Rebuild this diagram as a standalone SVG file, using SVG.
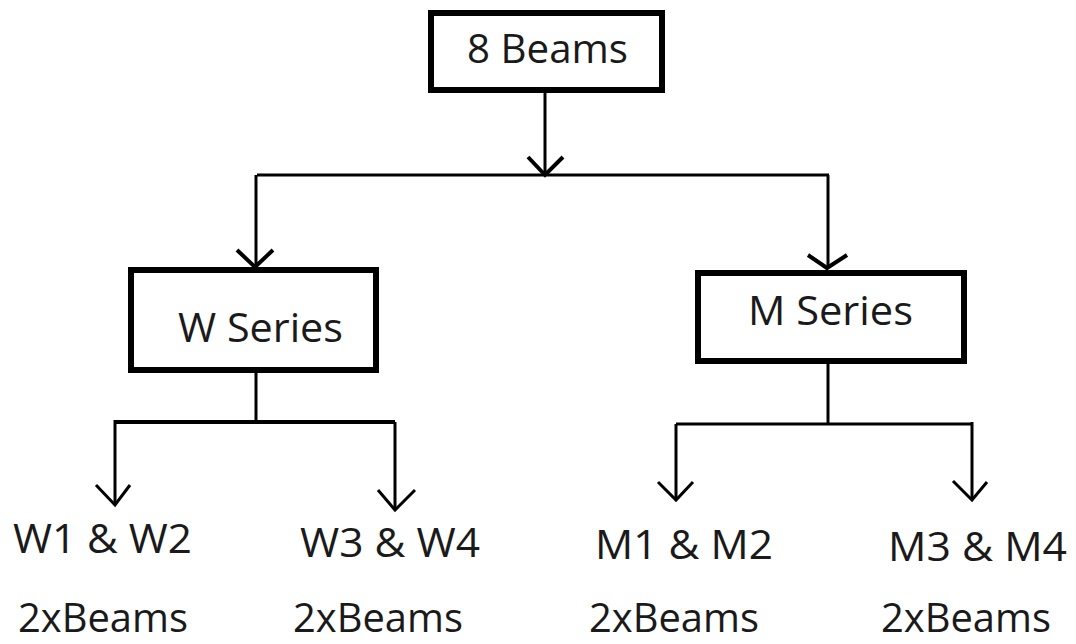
<svg xmlns="http://www.w3.org/2000/svg" width="1076" height="644" viewBox="0 0 1076 644">
<style>
.box{fill:#fff;stroke:#000;stroke-width:6}
.ln{fill:none;stroke:#000;stroke-width:3}
.hd{fill:none;stroke:#000;stroke-width:4}
.t{font-family:"Open Sans","Liberation Sans",sans-serif;font-size:40px;fill:#1a1a1a}
</style>
<rect width="1076" height="644" fill="#fff"/>
<g id="connectors">
<path class="ln" d="M545,93 V175"/>
<path class="ln" d="M257,175 H829"/>
<path class="ln" d="M256,175 V266"/>
<path class="ln" d="M828,175 V268"/>
<path class="hd" d="M528,157 L545,175 L563,157"/>
<path class="hd" d="M237,250 L255,267 L273,250"/>
<path class="hd" d="M808,255 L827,268 L847,255"/>
<path class="ln" d="M256,373 V422"/>
<path class="ln" d="M115,422 H395" style="stroke-width:4"/>
<path class="ln" d="M115,420 V505"/>
<path class="ln" d="M395,422 V510"/>
<path class="hd" d="M96,485 L115,505 L130,485" style="stroke-width:3"/>
<path class="hd" d="M378,490 L395,510 L415,490" style="stroke-width:3"/>
<path class="ln" d="M828,364 V424"/>
<path class="ln" d="M676,424 H972"/>
<path class="ln" d="M676,424 V500"/>
<path class="ln" d="M972,422 V500"/>
<path class="hd" d="M658,482 L676,500 L693,482" style="stroke-width:3"/>
<path class="hd" d="M953,481 L972,500 L987,482" style="stroke-width:3"/>
</g>
<g id="n-8beams">
<rect class="box" x="431" y="13" width="231" height="77"/>
<text class="t" x="467" y="63" textLength="161" lengthAdjust="spacingAndGlyphs">8 Beams</text>
</g>
<g id="n-wseries">
<rect class="box" x="131" y="270" width="245" height="100"/>
<text class="t" x="178" y="342" textLength="165" lengthAdjust="spacingAndGlyphs">W Series</text>
</g>
<g id="n-mseries">
<rect class="box" x="698" y="273" width="266" height="88"/>
<text class="t" x="748" y="325" textLength="165" lengthAdjust="spacingAndGlyphs">M Series</text>
</g>
<g id="n-w12">
<text class="t" x="13" y="553" textLength="179" lengthAdjust="spacingAndGlyphs">W1 &amp; W2</text>
<text class="t" x="18" y="632" textLength="170" lengthAdjust="spacingAndGlyphs">2xBeams</text>
</g>
<g id="n-w34">
<text class="t" x="300" y="557" textLength="180" lengthAdjust="spacingAndGlyphs">W3 &amp; W4</text>
<text class="t" x="293" y="632" textLength="170" lengthAdjust="spacingAndGlyphs">2xBeams</text>
</g>
<g id="n-m12">
<text class="t" x="595" y="559" textLength="178" lengthAdjust="spacingAndGlyphs">M1 &amp; M2</text>
<text class="t" x="589" y="632" textLength="170" lengthAdjust="spacingAndGlyphs">2xBeams</text>
</g>
<g id="n-m34">
<text class="t" x="888" y="561" textLength="179" lengthAdjust="spacingAndGlyphs">M3 &amp; M4</text>
<text class="t" x="881" y="632" textLength="170" lengthAdjust="spacingAndGlyphs">2xBeams</text>
</g>
</svg>
